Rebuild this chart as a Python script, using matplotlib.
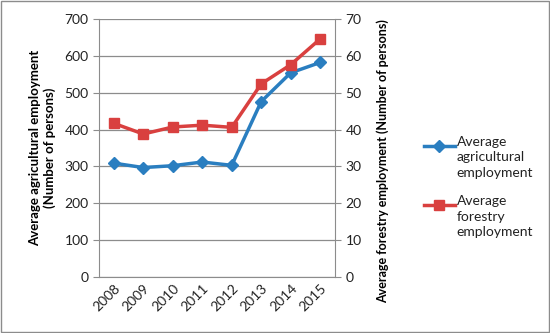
import matplotlib
matplotlib.use("Agg")
import matplotlib.pyplot as plt
from matplotlib.patches import Rectangle
from matplotlib.lines import Line2D

plt.rcParams['font.family'] = ['Lato', 'DejaVu Sans']

years = ["2008", "2009", "2010", "2011", "2012", "2013", "2014", "2015"]
agricultural = [309, 297, 302, 312, 303, 476, 554, 582]
forestry = [41.7, 38.8, 40.7, 41.2, 40.6, 52.4, 57.6, 64.6]

blue = "#2a7ec0"
red = "#d9403f"

fig = plt.figure(figsize=(5.5, 3.33), dpi=100)
ax = fig.add_axes([0.18, 0.168, 0.429, 0.775])
ax2 = ax.twinx()

x = list(range(len(years)))
ax.plot(x, agricultural, color=blue, lw=2.5, marker="D", markersize=6)
ax2.plot(x, forestry, color=red, lw=2.5, marker="s", markersize=7)

ax.set_ylim(0, 700)
ax.set_yticks(range(0, 701, 100))
ax2.set_ylim(0, 70)
ax2.set_yticks(range(0, 71, 10))
ax.set_xlim(-0.5, 7.5)
ax.set_xticks(x)
ax.set_xticklabels(years, rotation=45, ha="right", rotation_mode="anchor")

ax.grid(axis="y", color="#8c8c8c", lw=0.9)
ax.set_axisbelow(True)
for a in (ax, ax2):
    for s in a.spines.values():
        s.set_visible(False)
    a.tick_params(labelsize=10, colors="#222222", length=4, color="#8c8c8c")
ax.spines["left"].set_visible(True)
ax.spines["left"].set_color("#8c8c8c")
ax.spines["bottom"].set_visible(True)
ax.spines["bottom"].set_color("#8c8c8c")
ax2.spines["right"].set_visible(True)
ax2.spines["right"].set_color("#8c8c8c")
ax.tick_params(axis="x", length=0)

ax.set_ylabel("Average agricultural employment\n(Number of persons)", fontsize=9.5, fontweight="bold", labelpad=6)
ax2.set_ylabel("Average forestry employment (Number of persons)", fontsize=9, fontweight="bold", labelpad=8)
ax2.yaxis.set_label_coords(1.175, 0.45)

# legend, first text line aligned with the handle
entries = [(blue, "D", 6, "Average\nagricultural\nemployment", 0.562),
           (red, "s", 7, "Average\nforestry\nemployment", 0.384)]
for col, mk, ms, txt, yy in entries:
    fig.add_artist(Line2D([0.770, 0.827], [yy, yy], transform=fig.transFigure, color=col, lw=2.5))
    fig.add_artist(Line2D([0.798], [yy], transform=fig.transFigure, color=col,
                          marker=mk, markersize=ms, lw=0))
    fig.text(0.830, yy + 0.03, txt, fontsize=10, va="top", ha="left", color="#222222", linespacing=1.35)

fig.patches.append(Rectangle((0.002, 0.003), 0.996, 0.994, transform=fig.transFigure,
                             fill=False, edgecolor="#8c8c8c", lw=1))

fig.savefig("out.png", dpi=100)
